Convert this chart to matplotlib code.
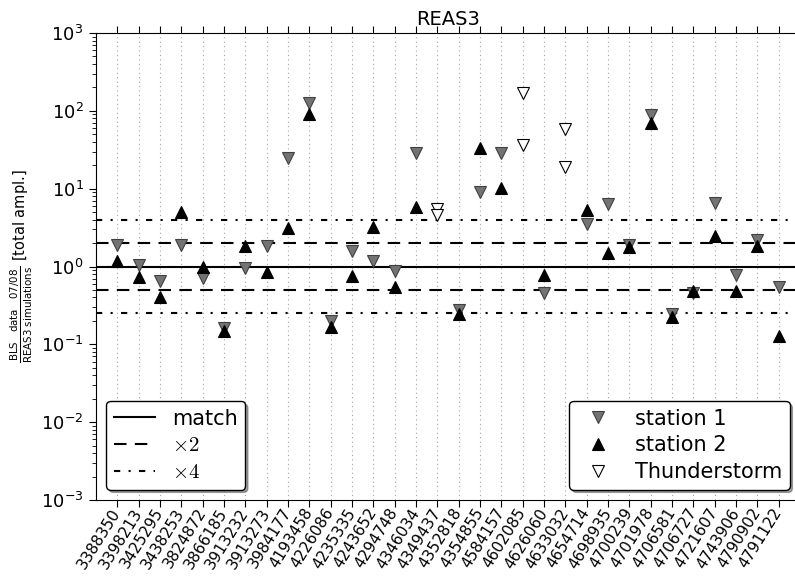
import numpy as np
import matplotlib

matplotlib.use("Agg")
import matplotlib.pyplot as plt

nan = np.nan

# event ids on the x axis
events = ["3388350", "3398213", "3425295", "3438253", "3824872", "3866185",
          "3913232", "3913273", "3984177", "4193458", "4226086", "4235335",
          "4243652", "4294748", "4346034", "4349437", "4352818", "4354855",
          "4584157", "4602085", "4626060", "4633032", "4654714", "4698935",
          "4700239", "4701978", "4706581", "4706727", "4721607", "4743906",
          "4790902", "4791122"]

# ratio data / simulation, per station (nan = no value)
station1 = [1.9, 1.04, 0.65, 1.87, 0.71, 0.16, 0.97, 1.83, 24.5, 127, 0.197,
            1.56, 1.18, 0.88, 28.5, nan, 0.28, 9.0, 28.7, nan, 0.46, nan, 3.5,
            6.4, 1.9, 88, 0.245, 0.45, 6.6, 0.77, 2.2, 0.55]
station2 = [1.18, 0.74, 0.40, 5.0, 0.98, 0.148, 1.85, 0.85, 3.1, 91, 0.168,
            0.76, 3.2, 0.54, 5.9, nan, 0.245, 33, 10.2, nan, 0.78, nan, 5.3,
            1.49, 1.78, 69, 0.226, 0.485, 2.44, 0.49, 1.81, 0.129]

# thunderstorm events (both stations)
storm_idx = [15, 15, 19, 19, 21, 21]
storm_val = [5.4, 4.6, 169, 36, 58.6, 18.8]

W, H = 795, 579
fig = plt.figure(figsize=(W / 100, H / 100), dpi=100)
ax = fig.add_axes([96 / W, 1 - 500 / H, 704 / W, 467 / H])

x = np.arange(len(events))

# reference lines
l_match = ax.axhline(1.0, color="k", lw=1.5, zorder=2)
l_x2 = ax.axhline(2.0, color="k", lw=1.5, dashes=(6, 4), zorder=2)
ax.axhline(0.5, color="k", lw=1.5, dashes=(6, 4), zorder=2)
l_x4 = ax.axhline(4.0, color="k", lw=1.5, dashes=(3, 4, 1, 4), zorder=2)
ax.axhline(0.25, color="k", lw=1.5, dashes=(3, 4, 1, 4), zorder=2)

s1, = ax.plot(x, station1, "v", ms=8, mfc="0.45", mec="0.25", mew=0.8,
              ls="none", zorder=3)
s2, = ax.plot(x, station2, "^", ms=8, mfc="k", mec="k", mew=0.8,
              ls="none", zorder=4)
st, = ax.plot(storm_idx, storm_val, "v", ms=8, mfc="w", mec="k", mew=0.8,
              ls="none", zorder=4)

ax.set_yscale("log")
ax.set_ylim(1e-3, 1e3)
ax.set_xlim(-1, len(events))
ax.set_xticks(x)
ax.set_xticklabels(events, rotation=58, ha="right", va="center",
                   rotation_mode="anchor", fontsize=11)
ax.xaxis.grid(True, color="0.65", lw=0.8, ls=(0, (1, 3)))
ax.tick_params(axis="both", which="both", direction="out", top=True, right=False)
ax.tick_params(axis="x", pad=2)
ax.tick_params(axis="y", labelsize=13, pad=4)
ax.tick_params(which="major", length=5)
ax.tick_params(which="minor", length=3)
ax.spines["right"].set_visible(False)

ax.set_title("REAS3", fontsize=14)
ax.set_ylabel(r"$\frac{\mathrm{BLS\quad data\quad 07/08}}{\mathrm{REAS3\ simulations}}$ [total ampl.]",
              fontsize=10.5)

leg_kw = dict(fontsize=15, fancybox=True, shadow=True, framealpha=1,
              edgecolor="k", handlelength=2.0, handletextpad=0.8,
              labelspacing=0.33, borderpad=0.35)
leg1 = ax.legend([l_match, l_x2, l_x4], ["match", r"$\times2$", r"$\times4$"],
                 loc="lower left", **leg_kw)
for t in leg1.get_texts():
    t.set_math_fontfamily("cm")
ax.add_artist(leg1)
ax.legend([s1, s2, st], ["station 1", "station 2", "Thunderstorm"],
          loc="lower right", numpoints=1, **leg_kw)

fig.savefig("out.png", dpi=100)
